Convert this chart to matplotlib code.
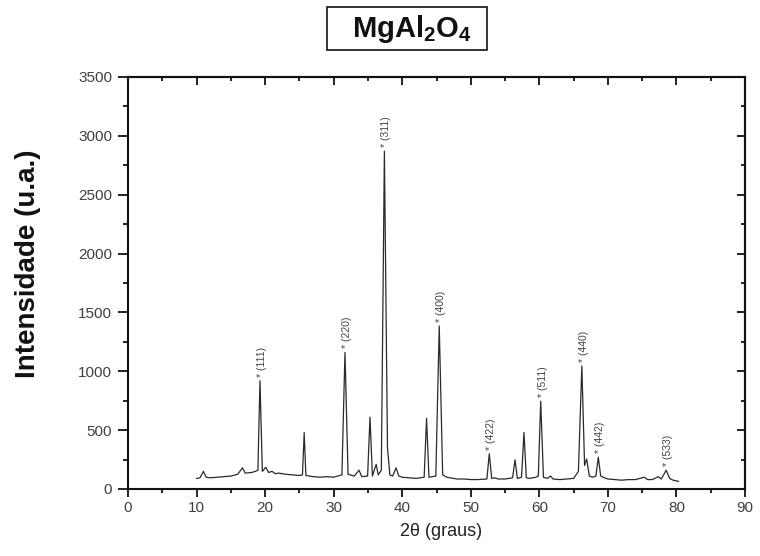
import matplotlib
matplotlib.use("Agg")
import matplotlib.pyplot as plt
from matplotlib.ticker import MultipleLocator
from matplotlib.patches import Rectangle

# ---- data (2theta in degrees, intensity in a.u.) ----
two_theta = [10.0, 10.5, 11.0, 11.4, 12.0, 13.0, 14.0, 15.0, 16.0, 16.7, 17.1, 18.0, 18.6,
             18.95, 19.25, 19.6, 20.1, 20.5, 21.0, 21.5, 22.0, 23.0, 24.0, 25.0, 25.45,
             25.7, 25.95, 27.0, 28.0, 29.0, 30.0, 31.2, 31.65, 32.1, 33.0, 33.7, 34.1,
             34.95, 35.3, 35.65, 36.2, 36.5, 36.95, 37.4, 37.85, 38.2, 38.6, 39.1, 39.5,
             40.0, 41.0, 42.0, 43.2, 43.55, 43.9, 44.9, 45.4, 45.9, 46.5, 47.0, 48.0,
             49.0, 50.0, 51.0, 52.35, 52.7, 53.05, 53.5, 54.0, 55.0, 56.1, 56.45, 56.8,
             57.4, 57.76, 58.1, 58.6, 59.5, 59.85, 60.2, 60.6, 61.2, 61.65, 62.0, 63.0,
             64.0, 65.0, 65.7, 66.2, 66.6, 66.9, 67.3, 67.8, 68.25, 68.6, 68.95, 69.5,
             70.0, 71.0, 72.0, 73.0, 74.0, 75.3, 75.8, 76.5, 77.35, 77.8, 78.5, 79.0,
             79.5, 80.3]
intensity = [90, 95, 150, 100, 95, 100, 105, 110, 125, 180, 135, 140, 150,
             160, 920, 150, 185, 140, 150, 130, 135, 125, 120, 115, 120,
             480, 115, 105, 100, 105, 100, 120, 1160, 125, 110, 160, 105,
             110, 610, 110, 210, 120, 160, 2870, 350, 120, 110, 180, 110,
             100, 95, 90, 100, 600, 100, 110, 1385, 120, 100, 95, 85,
             85, 80, 80, 85, 300, 90, 95, 85, 85, 95, 248, 90,
             100, 480, 95, 90, 100, 110, 745, 100, 90, 110, 85, 80,
             85, 90, 150, 1045, 200, 255, 110, 100, 110, 270, 110, 95,
             85, 80, 75, 80, 80, 100, 80, 80, 105, 85, 160, 90,
             75, 65]

peak_labels = ["(111)", "(220)", "(311)", "(400)", "(422)", "(511)", "(440)", "(442)", "(533)"]
peak_pos = [19.25, 31.65, 37.4, 45.4, 52.7, 60.2, 66.2, 68.6, 78.5]
peak_top = [920, 1160, 2870, 1385, 300, 745, 1045, 270, 160]

x_ticks = [0, 10, 20, 30, 40, 50, 60, 70, 80, 90]
y_ticks = [0, 500, 1000, 1500, 2000, 2500, 3000, 3500]

plt.rcParams['font.family'] = ['Liberation Sans', 'DejaVu Sans']
plt.rcParams['mathtext.fontset'] = 'custom'
plt.rcParams['mathtext.rm'] = 'Liberation Sans:bold'
plt.rcParams['mathtext.bf'] = 'Liberation Sans:bold'
plt.rcParams['mathtext.it'] = 'Liberation Sans:bold'

fig = plt.figure(figsize=(7.6, 5.56), dpi=100)
ax = fig.add_axes([128/760, 1-489/556, (745-128)/760, (489-77)/556])

ax.plot(two_theta, intensity, color='#2a2a2a', lw=0.9)

for lab, px, py in zip(peak_labels, peak_pos, peak_top):
    ax.text(px + 0.3, py + 35, "* " + lab, rotation=90, ha='center', va='bottom',
            fontsize=7.5, color='#444444')

ax.set_xlim(0, 90)
ax.set_ylim(0, 3500)
ax.set_xticks(x_ticks)
ax.set_yticks(y_ticks)
ax.xaxis.set_minor_locator(MultipleLocator(5))
ax.yaxis.set_minor_locator(MultipleLocator(250))

for s in ax.spines.values():
    s.set_linewidth(1.5)
    s.set_color('#111111')

ax.tick_params(axis='x', which='major', direction='out', length=6, width=1.3,
               labelsize=11, labelcolor='#404040', pad=3, color='#111111')
ax.tick_params(axis='x', which='minor', direction='out', length=3, width=1.3, color='#111111')
ax.tick_params(axis='y', which='major', direction='out', length=7.5, width=1.3,
               labelsize=11, labelcolor='#404040', pad=4, color='#111111')
ax.tick_params(axis='y', which='minor', direction='out', length=3.5, width=1.3, color='#111111')

top = ax.secondary_xaxis('top')
top.set_xticks(x_ticks)
top.xaxis.set_minor_locator(MultipleLocator(5))
top.tick_params(which='major', direction='in', length=6, width=1.3, labeltop=False, color='#111111')
top.tick_params(which='minor', direction='in', length=3, width=1.3, color='#111111')
top.spines['top'].set_linewidth(1.5)

right = ax.secondary_yaxis('right')
right.set_yticks(y_ticks)
right.yaxis.set_minor_locator(MultipleLocator(250))
right.tick_params(which='major', direction='in', length=6, width=1.3, labelright=False, color='#111111')
right.tick_params(which='minor', direction='in', length=3, width=1.3, color='#111111')
right.spines['right'].set_linewidth(1.5)

fig.text(28/760, 1-263.5/556, "Intensidade (u.a.)", rotation=90, ha='center', va='center',
         fontsize=20, fontweight='bold', color='#111111')
fig.text(441/760, 1-531/556, "2θ (graus)", ha='center', va='center', fontsize=13, color='#222222')

fig.patches.append(Rectangle((326.7/760, 1-50/556), 160/760, 43/556, transform=fig.transFigure,
                             fill=False, edgecolor='#111111', linewidth=1.2))
fig.text(411.5/760, 1-37/556, r"$\mathbf{MgAl_2O_4}$", ha='center', va='baseline',
         fontsize=21, color='#111111')

fig.savefig("out.png", dpi=100)
